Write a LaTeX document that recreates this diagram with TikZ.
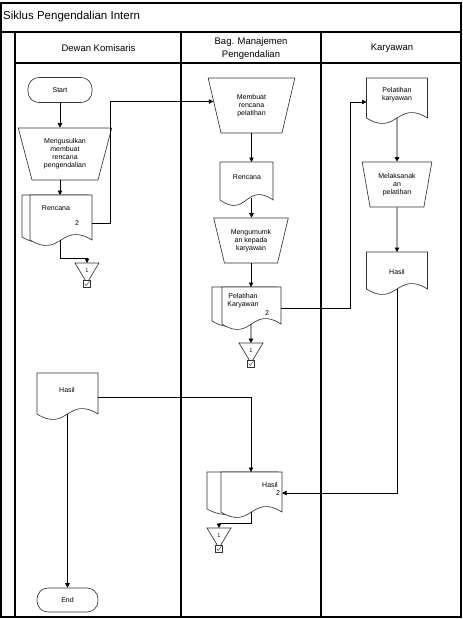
\documentclass[tikz,border=0pt]{standalone}
\usepackage{fontspec}
\setmainfont{Liberation Sans}
\usetikzlibrary{arrows.meta,calc,shapes.geometric}
\newcommand\docshape[1]{%
  \draw[shp] (#1.north west) -- (#1.north east) -- (#1.south east)
    .. controls ($(#1.south)+(0,-19)$) and ($(#1.south)+(0,19)$) .. (#1.south west) -- cycle;}
\newcommand\mdocshape[2]{%
  \draw[shp,fill=white] (#1.north west) -- ($(#1.north east)+(-4,0)$) -- ($(#1.south east)+(-4,-3)$)
    .. controls ($(#1.south)+(-2,-22)$) and ($(#1.south)+(-2,16)$) .. ($(#1.south west)+(0,-3)$) -- cycle;
  \draw[shp,fill=white] ($(#1.north west)+(#2,0)$) -- (#1.north east) -- (#1.south east)
    .. controls ($(#1.south)+(#2/2,-19)$) and ($(#1.south)+(#2/2,19)$) .. ($(#1.south west)+(#2,0)$) -- cycle;}
\newcommand\offpage[1]{%
  \draw[shp] (#1.north west) -- (#1.north east) -- ($(#1.south)+(0,4)$) -- cycle;
  \draw[shp,fill=white] ($(#1.south)+(-3.5,1)$) rectangle ($(#1.south)+(3.5,8)$);
  \draw[shp,line width=0.4pt] ($(#1.south)+(-2.3,4.3)$) -- ($(#1.south)+(-0.8,6.6)$) -- ($(#1.south)+(2.4,2.2)$);}
\begin{document}
\begin{tikzpicture}[x=1pt,y=-1pt,
  shp/.style={draw=black!80, line width=0.65pt},
  box/.style={draw=none, inner sep=0pt, outer sep=0pt},
  txt/.style={font=\fontsize{7}{8}\selectfont, align=center, inner sep=0pt},
  hdr/.style={font=\fontsize{9.5}{13}\selectfont, align=center, inner sep=0pt},
  arr/.style={draw=black, line width=0.85pt, -{Triangle[length=4.5pt,width=4.5pt]}},
  frame/.style={draw=black, line width=1.1pt},
  term/.style={shp, rectangle, rounded corners=11pt, inner sep=0pt, font=\fontsize{7}{8}\selectfont, minimum width=64pt, minimum height=25pt},
  manual/.style={shp, trapezium, shape border rotate=180, trapezium stretches=true, inner sep=0pt, align=center, font=\fontsize{7}{8}\selectfont},
  off/.style={box, minimum width=24pt, minimum height=16pt, font=\fontsize{5.5}{6}\selectfont}
]
\useasboundingbox (0,0) rectangle (463,619);
% frame
\draw[frame] (1,3) rectangle (461,617);
\draw[frame] (1,32) -- (461,32);
\draw[frame] (15,63) -- (461,63);
\draw[frame] (15,32) -- (15,617);
\draw[frame] (181,32) -- (181,617);
\draw[frame] (321,32) -- (321,617);
\node[anchor=west, font=\fontsize{11.5}{13}\selectfont, inner sep=0pt] (title) at (3,17) {Siklus Pengendalian Intern};
\node[hdr] (lane1) at (98.5,48) {Dewan Komisaris};
\node[hdr] (lane2) at (251,49) {Bag. Manajemen\\Pengendalian};
\node[hdr] (lane3) at (392,48) {Karyawan};

% left lane
\node[term] (start) at (60,90) {Start};
\node[manual, minimum width=94pt, minimum height=52pt, trapezium angle=74] (m1) at (65,154) {Mengusulkan\\membuat\\rencana\\pengendalian};
\node[box, minimum width=70pt, minimum height=45pt] (r1) at (57,217.5) {};
\node[off] (t1) at (87,271) {1};
\node[box, minimum width=61pt, minimum height=41pt] (h2) at (67.5,393.5) {};
\node[term, minimum width=61pt, minimum height=24pt] (end) at (67.5,600) {End};

% middle lane
\node[manual, minimum width=87pt, minimum height=55pt, trapezium angle=74.7] (m2) at (251.5,105.5) {Membuat\\rencana\\pelatihan};
\node[box, minimum width=53pt, minimum height=38pt] (d2) at (246.5,181) {};
\node[manual, minimum width=75pt, minimum height=45pt, trapezium angle=70] (m3) at (251,240.5) {Mengumumk\\an kepada\\karyawan};
\node[box, minimum width=69pt, minimum height=37pt] (p1) at (246.5,305.5) {};
\node[off] (t2) at (251,351) {1};
\node[box, minimum width=75pt, minimum height=40pt] (h3) at (244.5,492) {};
\node[off] (t3) at (219,536) {1};

% right lane
\node[box, minimum width=61pt, minimum height=40pt] (k1) at (397,98) {};
\node[manual, minimum width=70pt, minimum height=45pt, trapezium angle=76.3] (m4) at (397,184.5) {Melaksanak\\an\\pelatihan};
\node[box, minimum width=61pt, minimum height=37pt] (h1) at (397,270.5) {};

% shapes
\mdocshape{r1}{8}
\docshape{h2}
\docshape{d2}
\mdocshape{p1}{10}
\mdocshape{h3}{14}
\docshape{k1}
\docshape{h1}
\offpage{t1}
\offpage{t2}
\offpage{t3}

% texts
\node[txt] (r1t) at (56,208) {Rencana};
\node[txt] (r1n) at (77,223) {2};
\node[txt] (h2t) at (67,390) {Hasil};
\node[txt] (d2t) at (247,177) {Rencana};
\node[txt] (p1t) at (243,301) {Pelatihan\\Karyawan};
\node[txt] (p1n) at (267,313) {2};
\node[txt] (h3t) at (270,485) {Hasil};
\node[txt] (h3n) at (278,493) {2};
\node[txt] (k1t) at (397,95) {Pelatihan\\karyawan};
\node[txt] (h1t) at (397,272) {Hasil};

% connectors
\draw[arr] (start.south) -- (start.south |- m1.north);
\draw[arr] (start.south |- m1.south) -- (start.south |- r1.north);
\draw[arr] (r1.east |- r1n) -- ++(18,0) |- (m2.174);
\draw[arr] (start.south |- r1.south) |- ($(t1.north)+(0,-5)$) -- (t1.north);
\draw[arr] (m2.south) -- (m2.south |- d2.north);
\draw[arr] ($(m2.south |- d2.south)+(0,-2)$) -- (m2.south |- m3.north);
\draw[arr] (m3.south) -- (m3.south |- p1.north);
\draw[arr] (m3.south |- p1.south) -- (t2.north);
\draw[arr] ($(p1.east)+(0,3)$) -| ($(k1.west)+(-16,4)$) -- ($(k1.west)+(0,4)$);
\draw[arr] (k1.south) -- (m4.north);
\draw[arr] (m4.south) -- (h1.north);
\draw[arr] (h1.south) |- (h3n -| h3.east);
\draw[arr] ($(h2.east)+(0,3.5)$) -| (m3.south |- h3.north);
\draw[arr] (h2.south) -- (end.north);
\draw[arr] (m3.south |- h3.south) |- ($(t3.north)+(0,-5)$) -- (t3.north);
\end{tikzpicture}
\end{document}
